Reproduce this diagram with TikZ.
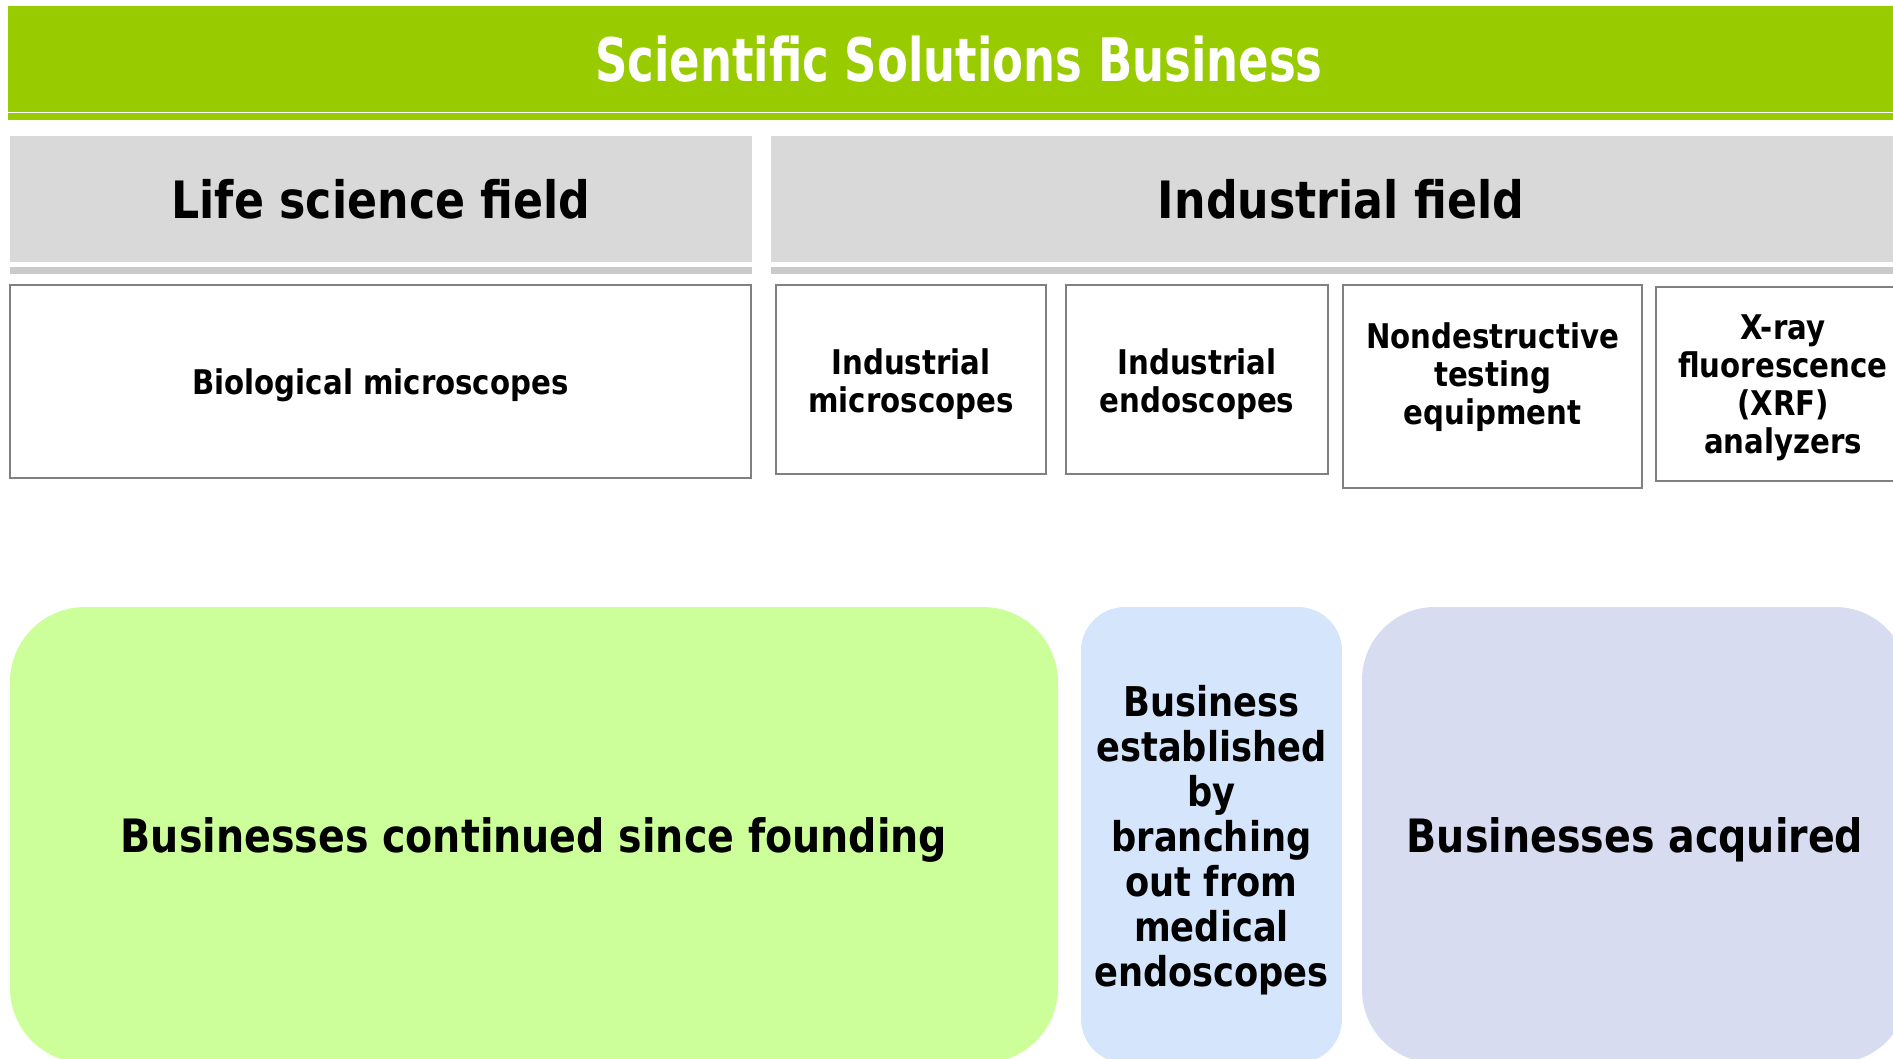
\documentclass[tikz,border=0pt]{standalone}
\usepackage{fontspec}
\setmainfont{DejaVu Sans}
\newfontfamily\titlefont[FakeStretch=0.75]{DejaVu Sans}
\newfontfamily\labelfont[FakeStretch=0.86]{DejaVu Sans}
\usepackage{xcolor}

\definecolor{bannergreen}{HTML}{99CC00}
\definecolor{headgray}{HTML}{D9D9D9}
\definecolor{bargray}{HTML}{CACACA}
\definecolor{edgegray}{HTML}{808080}
\definecolor{foundgreen}{HTML}{CCFF99}
\definecolor{branchblue}{HTML}{D5E5FC}
\definecolor{acqlilac}{HTML}{D8DCF0}

\begin{document}
\begin{tikzpicture}[x=1pt,y=-1pt,
    field/.style={fill=headgray, inner sep=0pt, minimum height=126pt,
        font=\labelfont\bfseries\fontsize{51.5}{56}\selectfont},
    item/.style={draw=edgegray, line width=2pt, fill=white, inner sep=0pt},
    itemtext/.style={align=center, inner sep=0pt,
        font=\labelfont\bfseries\fontsize{34}{38}\selectfont},
    sourcebox/.style={rounded corners=#1, inner sep=0pt, minimum height=456pt},
    sourcetext/.style={align=center, inner sep=0pt,
        font=\labelfont\bfseries\fontsize{46}{45}\selectfont}]

    \useasboundingbox (0,0) rectangle (1893,1058);
    \clip (0,0) rectangle (1893,1058);

    % title banner
    \node[fill=bannergreen, text=white, inner sep=0pt, minimum width=1902pt, minimum height=106pt,
        font=\titlefont\bfseries\fontsize{60}{64}\selectfont] (title) at (959,59) {Scientific Solutions Business};
    \fill[bannergreen] ([yshift=-1pt]title.south west) rectangle ([yshift=-8pt]title.south east);

    % the two fields
    \node[field, minimum width=742pt] (life) at (381,199) {Life science field};
    \node[field, minimum width=1140pt] (industry) at (1341,199) {Industrial field};
    \fill[bargray] ([yshift=-5pt]life.south west) rectangle ([yshift=-12pt]life.south east);
    \fill[bargray] ([yshift=-5pt]industry.south west) rectangle ([yshift=-12pt]industry.south east);

    % products
    \node[item, minimum width=741pt, minimum height=193pt] (bio) at (380.5,381.5) {};
    \node[item, minimum width=270pt, minimum height=189pt] (imicro) at (911,379.5) {};
    \node[item, minimum width=262pt, minimum height=189pt] (iendo) at (1197,379.5) {};
    \node[item, minimum width=299pt, minimum height=203pt] (ndt) at (1492.5,386.5) {};
    \node[item, minimum width=254pt, minimum height=194pt] (xrf) at (1783,384) {};

    \node[itemtext] (biotext) at ([yshift=-4pt]bio.center) {Biological microscopes};
    \node[itemtext] (imicrotext) at ([yshift=-5pt]imicro.center) {Industrial\\microscopes};
    \node[itemtext] (iendotext) at ([yshift=-5pt]iendo.center) {Industrial\\endoscopes};
    \node[itemtext] (ndttext) at ([yshift=9pt]ndt.center) {Nondestructive\\testing\\equipment};
    \node[itemtext] (xrftext) at ([yshift=-4pt]xrf.center) {X-ray\\fluorescence\\(XRF)\\analyzers};

    % where the businesses came from
    \node[sourcebox=75pt, fill=foundgreen, minimum width=1048pt] (founded) at (534,835) {};
    \node[sourcebox=44pt, fill=branchblue, minimum width=261pt] (branched) at (1211.5,835) {};
    \node[sourcebox=73pt, fill=acqlilac, minimum width=546pt] (acquired) at (1635,835) {};

    \node[sourcetext] (foundedtext) at ([yshift=-5pt]founded.center) {Businesses continued since founding};
    \node[sourcetext, font=\labelfont\bfseries\fontsize{41}{45}\selectfont] (branchedtext) at ([yshift=-5pt]branched.center)
        {Business\\established\\by\\branching\\out from\\medical\\endoscopes};
    \node[sourcetext] (acquiredtext) at ([yshift=-5pt]acquired.center) {Businesses acquired};
\end{tikzpicture}
\end{document}
